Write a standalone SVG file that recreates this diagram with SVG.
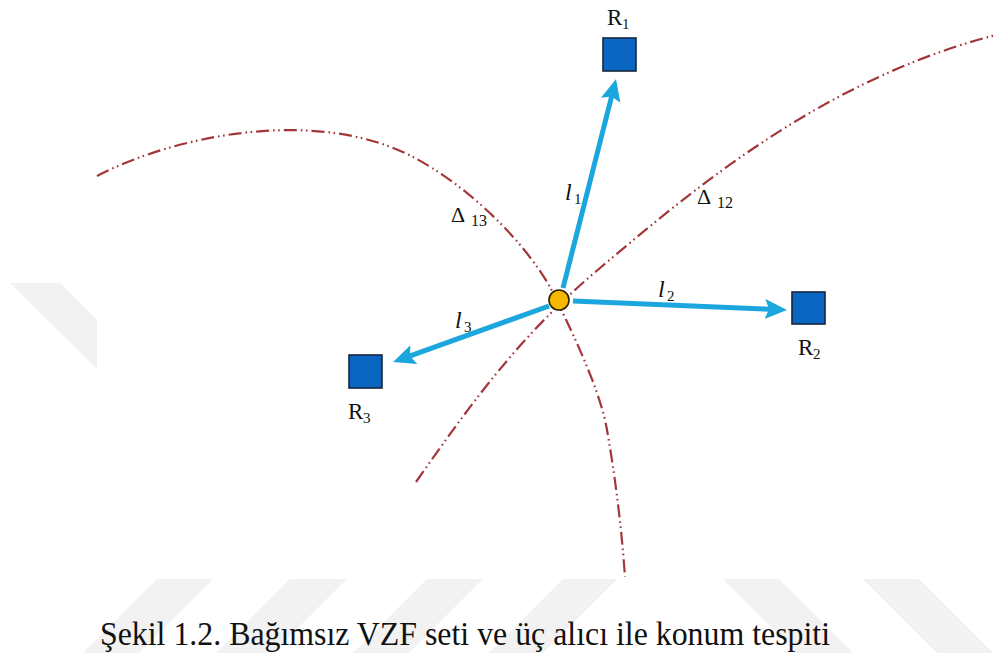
<svg xmlns="http://www.w3.org/2000/svg" width="996" height="657" viewBox="0 0 996 657">
  <style>
    .wm { fill: #f2f2f2; stroke: none; }
    .curve { fill: none; stroke: #a3363b; stroke-width: 2.2; stroke-dasharray: 13 4 1.6 3.5 1.6 4; }
    .arrow { fill: none; stroke: #1ba6de; stroke-width: 5; stroke-linecap: butt; }
    .rx { fill: #0b66c2; stroke: #14263d; stroke-width: 1.6; }
    .txt { font-family: "Liberation Serif", "Times New Roman", serif; fill: #111; }
    .it { font-style: italic; }
  </style>
  <defs>
    <marker id="ah" viewBox="0 0 22 20" refX="6" refY="10" markerWidth="22" markerHeight="20" markerUnits="userSpaceOnUse" orient="auto">
      <path d="M0,0 L22,10 L0,20 L4,10 Z" fill="#1ba6de"/>
    </marker>
  </defs>
  <rect width="996" height="657" fill="#ffffff"/>
  <g id="watermark">
    <polygon class="wm" points="10,283 60,283 97,320 97,369"/>
    <polygon class="wm" points="157,579 213,579 139,653 83,653"/>
    <polygon class="wm" points="290,579 347,579 273,653 216,653"/>
    <polygon class="wm" points="427,579 483,579 409,653 353,653"/>
    <polygon class="wm" points="563,579 617,579 543,653 489,653"/>
    <polygon class="wm" points="723,579 779,579 853,653 797,653"/>
    <polygon class="wm" points="863,579 919,579 993,653 937,653"/>
  </g>
  <g id="curves">
    <path class="curve" d="M97,176 C180,133 320,108 413,157 C463,183 520,235 550,287 C565,317 600,387 607,430 C614,470 621,520 625,577"/>
    <path class="curve" d="M416,482 C470,405 520,335 600,268 C688,194 820,80 996,35"/>
    <text class="txt" x="451" y="222" font-size="22">Δ</text>
    <text class="txt" x="471" y="226" font-size="16">13</text>
    <text class="txt" x="697" y="204" font-size="22">Δ</text>
    <text class="txt" x="717" y="208" font-size="16">12</text>
  </g>
  <g id="connectors">
    <line class="arrow" x1="563" y1="288" x2="612.1" y2="94.5" marker-end="url(#ah)"/>
    <line class="arrow" x1="573" y1="301" x2="771" y2="309.3" marker-end="url(#ah)"/>
    <line class="arrow" x1="549" y1="306" x2="408.1" y2="356.6" marker-end="url(#ah)"/>
    <text class="txt it" x="565" y="200" font-size="24">l</text>
    <text class="txt" x="574" y="204" font-size="15">1</text>
    <text class="txt it" x="658" y="297" font-size="24">l</text>
    <text class="txt" x="667" y="301" font-size="15">2</text>
    <text class="txt it" x="455" y="328" font-size="24">l</text>
    <text class="txt" x="464" y="332" font-size="15">3</text>
  </g>
  <g id="source">
    <circle cx="559" cy="300" r="10" fill="#f6b800" stroke="#2a2200" stroke-width="1.6"/>
  </g>
  <g id="R1">
    <rect class="rx" x="603" y="38" width="33" height="33"/>
    <text class="txt" x="607" y="25" font-size="23">R</text>
    <text class="txt" x="622" y="29" font-size="15">1</text>
  </g>
  <g id="R2">
    <rect class="rx" x="792" y="292" width="33" height="32"/>
    <text class="txt" x="798" y="355" font-size="23">R</text>
    <text class="txt" x="813" y="359" font-size="15">2</text>
  </g>
  <g id="R3">
    <rect class="rx" x="349" y="355" width="33" height="33"/>
    <text class="txt" x="348" y="419" font-size="23">R</text>
    <text class="txt" x="363" y="423" font-size="15">3</text>
  </g>
  <g id="caption">
    <text class="txt" x="100" y="645" font-size="33" textLength="730" lengthAdjust="spacingAndGlyphs">Şekil 1.2. Bağımsız VZF seti ve üç alıcı ile konum tespiti</text>
  </g>
</svg>
